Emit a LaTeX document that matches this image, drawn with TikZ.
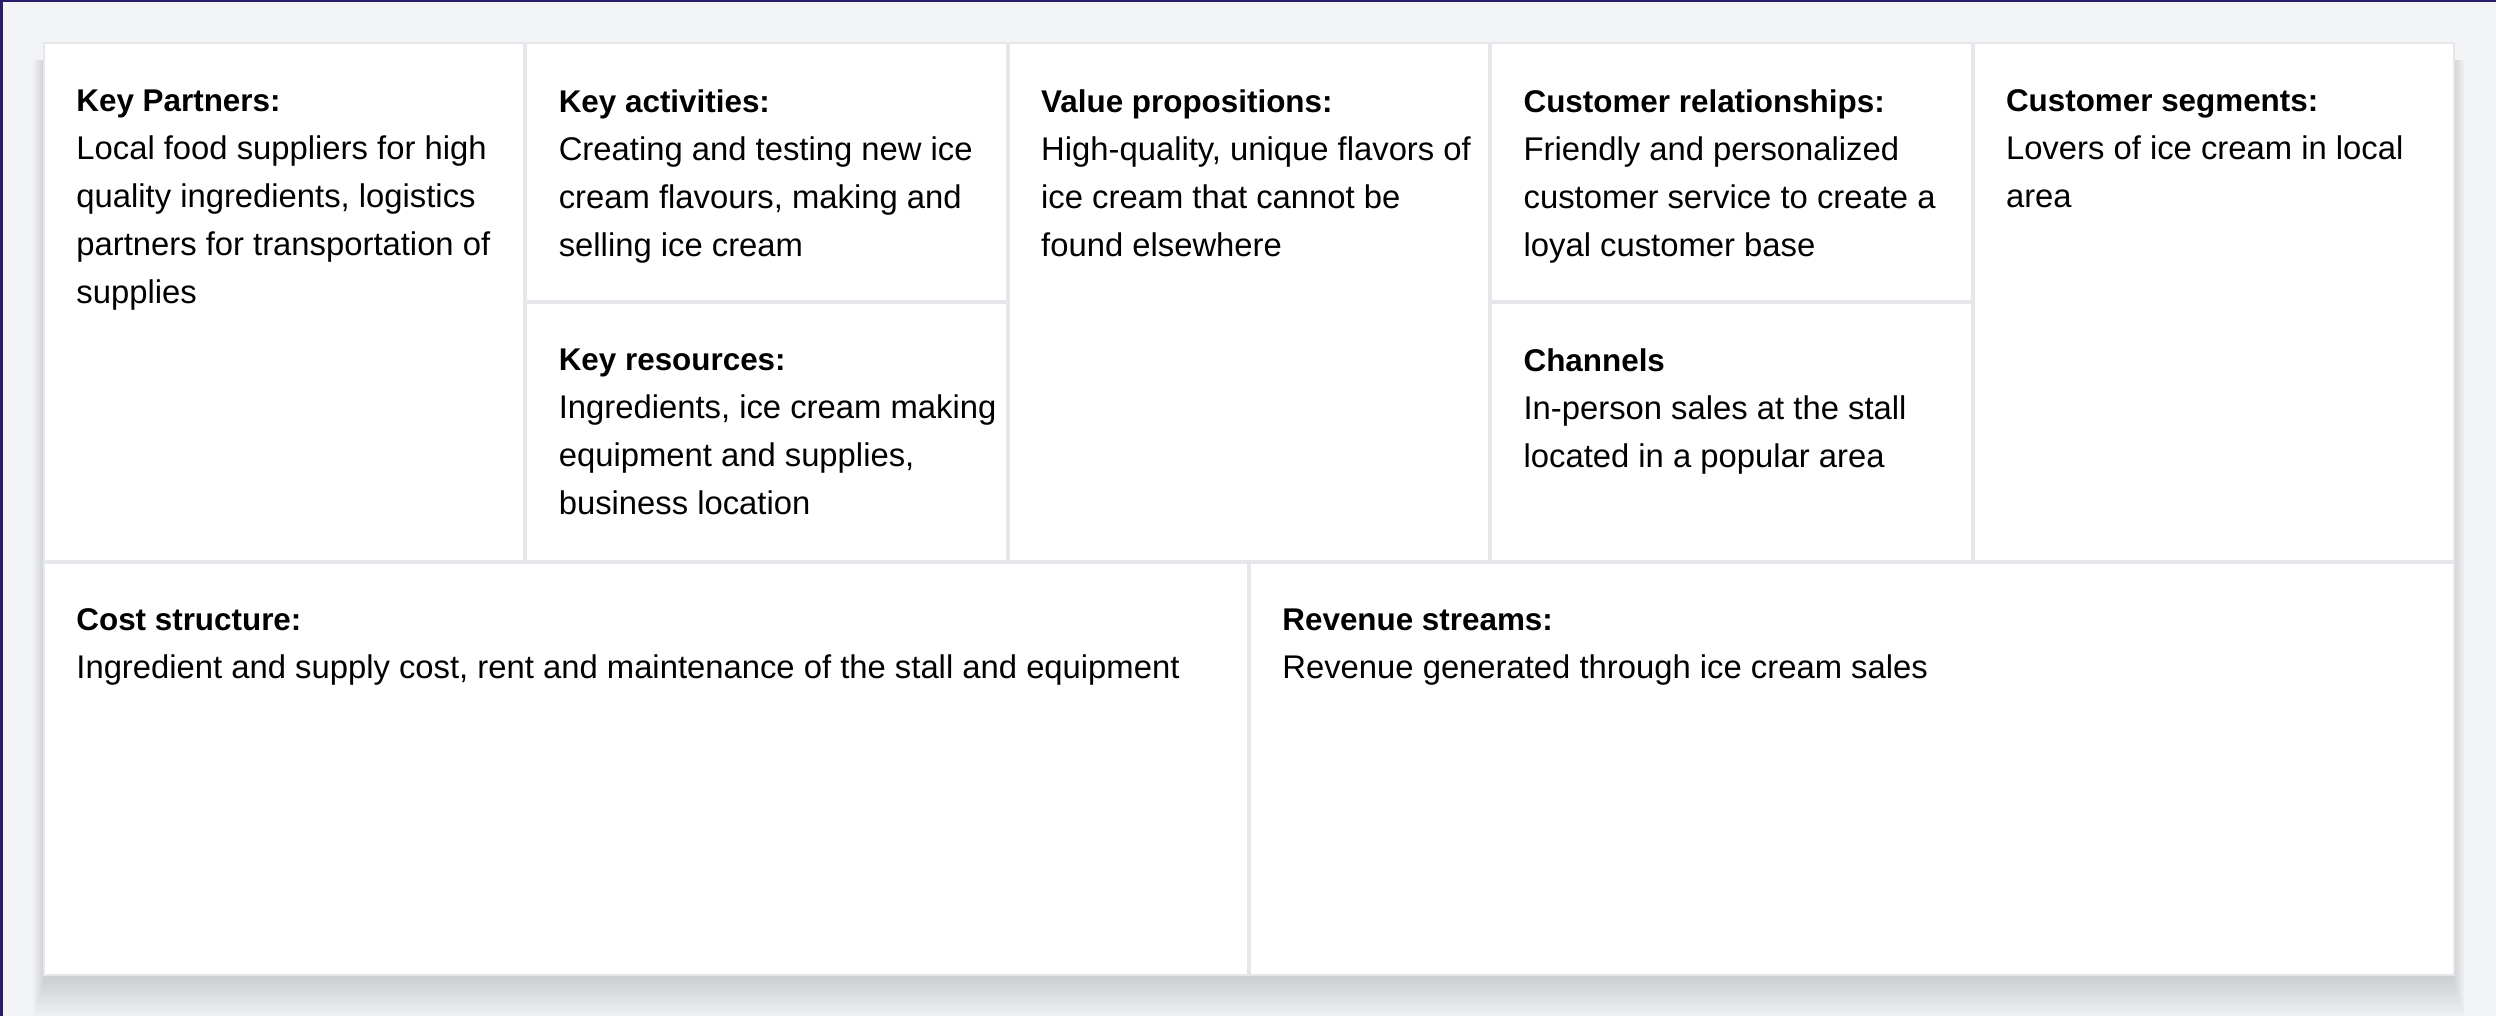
\documentclass[tikz,border=0pt]{standalone}
\usepackage{fontspec}
\setmainfont{Liberation Sans}
\usetikzlibrary{positioning,calc}

\definecolor{pagebg}{HTML}{F3F4F6}
\definecolor{gridgray}{HTML}{E5E7EB}
\definecolor{frameblue}{RGB}{44,27,105}
\newcommand{\cardtitle}[1]{{\fontsize{15.7}{24}\selectfont\bfseries #1}}

\begin{document}
\begin{tikzpicture}[
  x=1pt, y=1pt,
  cell/.style={fill=white, anchor=north west, inner sep=0pt, outer sep=0pt, minimum width=239.2pt},
  tall/.style={cell, minimum height=257.6pt},
  half/.style={cell, minimum height=127.8pt},
  wide/.style={cell, minimum width=601pt, minimum height=205.2pt},
  txt/.style={anchor=north west, align=left, inner sep=0pt, font=\fontsize{16.4}{24}\selectfont, execute at begin node=\strut}
]
\useasboundingbox (0,0) rectangle (1248,-508);
\fill[pagebg] (0,0) rectangle (1248,-508);
\fill[frameblue] (0,0) rectangle (1248,-1);
\fill[frameblue] (0,0) rectangle (1.5,-508);

% soft shadow under the card
\foreach \s in {1,...,12}
  \fill[black, opacity=0.011] (22.5-0.5*\s,-30) rectangle (1226.5+0.5*\s,-489-1.7*\s);
\fill[gridgray] (21.5,-21.2) rectangle (1227.5,-488);

% canvas cells
\node[tall] (kp) at (22.5,-22.2) {};
\node[half, right=2pt of kp.north east, anchor=north west] (ka) {};
\node[half, below=2pt of ka] (kr) {};
\node[tall, right=2pt of ka.north east, anchor=north west] (vp) {};
\node[half, right=2pt of vp.north east, anchor=north west] (cr) {};
\node[half, below=2pt of cr] (ch) {};
\node[tall, right=2pt of cr.north east, anchor=north west] (cs) {};
\node[wide, below=2pt of kp.south west, anchor=north west] (cost) {};
\node[wide, right=2pt of cost] (rev) {};

% texts
\node[txt] (kptext) at ($(kp.north west)+(15.5,-22.3)$) {\cardtitle{Key Partners:}\\Local food suppliers for high\\quality ingredients, logistics\\partners for transportation of\\supplies};
\node[txt] (katext) at ($(ka.north west)+(15.5,-22.3)$) {\cardtitle{Key activities:}\\Creating and testing new ice\\cream flavours, making and\\selling ice cream};
\node[txt] (krtext) at ($(kr.north west)+(15.5,-22.3)$) {\cardtitle{Key resources:}\\Ingredients, ice cream making\\equipment and supplies,\\business location};
\node[txt] (vptext) at ($(vp.north west)+(15.5,-22.3)$) {\cardtitle{Value propositions:}\\High-quality, unique flavors of\\ice cream that cannot be\\found elsewhere};
\node[txt] (crtext) at ($(cr.north west)+(15.5,-22.3)$) {\cardtitle{Customer relationships:}\\Friendly and personalized\\customer service to create a\\loyal customer base};
\node[txt] (chtext) at ($(ch.north west)+(15.5,-22.3)$) {\cardtitle{Channels}\\In-person sales at the stall\\located in a popular area};
\node[txt] (cstext) at ($(cs.north west)+(15.5,-22.3)$) {\cardtitle{Customer segments:}\\Lovers of ice cream in local\\area};
\node[txt] (costtext) at ($(cost.north west)+(15.5,-22.3)$) {\cardtitle{Cost structure:}\\Ingredient and supply cost, rent and maintenance of the stall and equipment};
\node[txt] (revtext) at ($(rev.north west)+(15.5,-22.3)$) {\cardtitle{Revenue streams:}\\Revenue generated through ice cream sales};
\end{tikzpicture}
\end{document}
